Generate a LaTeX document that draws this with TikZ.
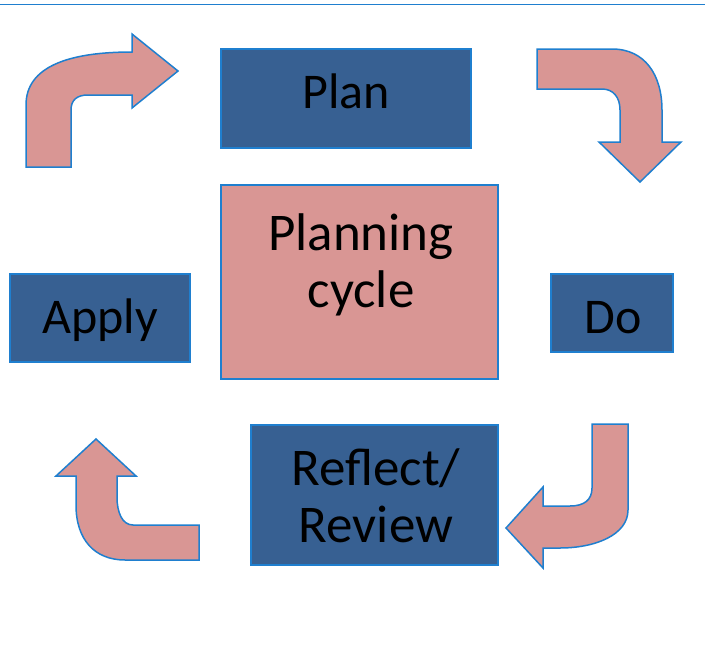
\documentclass[tikz,border=0pt]{standalone}
\usepackage{fontspec}
\setmainfont{Carlito}
\definecolor{pinkf}{HTML}{D99694}
\definecolor{darkb}{HTML}{376092}
\definecolor{edgeb}{HTML}{1F7FCF}
\begin{document}
\begin{tikzpicture}[x=1pt,y=-1pt,
  dbox/.style={draw=edgeb,line width=1.5pt,fill=darkb,inner sep=0pt},
  pbox/.style={draw=edgeb,line width=1.5pt,fill=pinkf,inner sep=0pt},
  bentarrow/.style={draw=edgeb,line width=1.5pt,fill=pinkf,line join=miter},
  lbl/.style={font=\fontsize{50}{57}\selectfont,align=center,text=black,inner sep=0pt,anchor=base},
  biglbl/.style={font=\fontsize{53}{57}\selectfont,align=center,text=black,inner sep=0pt,anchor=base}]
\useasboundingbox (0,0) rectangle (705,646);
\draw[edgeb,line width=1.5pt] (0,4.5) -- (705,4.5);
% boxes
\node[dbox,minimum width=250pt,minimum height=99pt] (plan) at (346,98.5) {};
\node[lbl] at (346,108) {Plan};
\node[pbox,minimum width=277pt,minimum height=194pt] (cycle) at (359.5,282) {};
\node[biglbl] at (361,307) {Planning\\cycle};
\node[dbox,minimum width=180pt,minimum height=88pt] (apply) at (100,318) {};
\node[lbl] at (100,333) {Apply};
\node[dbox,minimum width=122pt,minimum height=78pt] (do) at (612,313) {};
\node[lbl] at (613,333) {Do};
\node[dbox,minimum width=247pt,minimum height=140pt] (review) at (374.5,495) {};
\node[biglbl] at (376,542) {Reflect/\\Review};
% arrows
\draw[bentarrow] (26,167) -- (26,105) .. controls (26,66) and (70,52) .. (132,52)
  -- (132,34) -- (178,71) -- (132,108) -- (132,95) -- (88,95)
  .. controls (77,95) and (71,100) .. (71,110) -- (71,167) -- cycle;
\draw[bentarrow] (537,49) -- (612,49) .. controls (645,49) and (662,75) .. (662,110)
  -- (662,142) -- (681,142) -- (640,182) -- (599,142) -- (620,142) -- (620,110)
  .. controls (620,97) and (613,89) .. (602,89) -- (537,89) -- cycle;
\draw[bentarrow] (592,424) -- (628,424) -- (628,510) .. controls (628,535) and (595,548) .. (560,548)
  -- (543,548) -- (543,568) -- (506,528) -- (543,487) -- (543,506) -- (570,506)
  .. controls (584,506) and (592,500) .. (592,488) -- cycle;
\draw[bentarrow] (199,525) -- (133,525) .. controls (122,525) and (117,512) .. (117,497)
  -- (117,476) -- (136,476) -- (96,439) -- (56,476) -- (76,476) -- (76,505)
  .. controls (76,540) and (95,560) .. (125,560) -- (199,560) -- cycle;
\end{tikzpicture}
\end{document}
